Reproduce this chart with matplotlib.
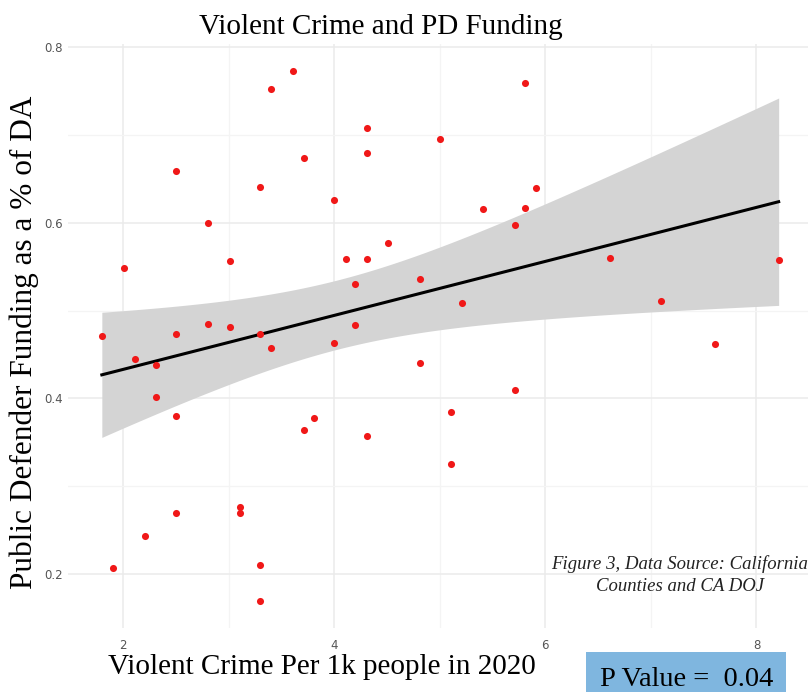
import numpy as np
import matplotlib
matplotlib.use("Agg")
import matplotlib.pyplot as plt
from matplotlib.patches import Rectangle

# violent crime per 1k people (2020) and PD/DA funding ratio, one entry per county
crime = [1.80, 1.91, 2.01, 2.11, 2.21, 2.31, 2.31, 2.50, 2.50, 2.50,
         2.50, 2.81, 2.81, 3.01, 3.01, 3.11, 3.11, 3.30, 3.30, 3.30,
         3.30, 3.40, 3.40, 3.61, 3.71, 3.71, 3.81, 4.00, 4.00, 4.11,
         4.20, 4.20, 4.31, 4.31, 4.31, 4.31, 4.51, 4.81, 4.81, 5.00,
         5.11, 5.11, 5.21, 5.41, 5.71, 5.71, 5.81, 5.81, 5.91, 6.61,
         7.10, 7.61, 8.21]
funding = [0.471, 0.207, 0.548, 0.445, 0.244, 0.438, 0.402, 0.659, 0.473, 0.380,
           0.270, 0.600, 0.485, 0.556, 0.481, 0.276, 0.270, 0.640, 0.473, 0.211,
           0.169, 0.752, 0.457, 0.773, 0.673, 0.364, 0.378, 0.626, 0.463, 0.559,
           0.530, 0.483, 0.708, 0.679, 0.559, 0.357, 0.577, 0.536, 0.440, 0.695,
           0.385, 0.325, 0.508, 0.615, 0.597, 0.409, 0.759, 0.617, 0.639, 0.560,
           0.511, 0.462, 0.558]
p_value = 0.04

x = np.array(crime)
y = np.array(funding)

# linear fit with 95% confidence band (like geom_smooth(method="lm"))
n = len(x)
slope, intercept = np.polyfit(x, y, 1)
resid = y - (slope * x + intercept)
s = np.sqrt(np.sum(resid ** 2) / (n - 2))
xs = np.linspace(x.min(), x.max(), 200)
ys = slope * xs + intercept
se = s * np.sqrt(1.0 / n + (xs - x.mean()) ** 2 / np.sum((x - x.mean()) ** 2))
t_crit = 2.0076  # t(0.975, df=51)

W, H = 808, 692
fig = plt.figure(figsize=(W / 100, H / 100), dpi=100)
ax = fig.add_axes([68 / W, 1 - 628 / H, 744.5 / W, 584 / H])

ax.fill_between(xs, ys - t_crit * se, ys + t_crit * se, color="#d4d4d4", lw=0, zorder=2)
ax.plot(xs, ys, color="black", lw=2.2, zorder=3)
ax.scatter(x, y, s=26, color="#f01818", lw=0, zorder=4)

xr = x.max() - x.min()
yr = y.max() - y.min()
ax.set_xlim(x.min() - 0.05 * xr, x.max() + 0.05 * xr)
ax.set_ylim(y.min() - 0.05 * yr, y.max() + 0.05 * yr)

ax.set_xticks([2, 4, 6, 8])
ax.set_xticks([3, 5, 7], minor=True)
ax.set_yticks([0.2, 0.4, 0.6, 0.8])
ax.set_yticks([0.3, 0.5, 0.7], minor=True)
ax.grid(which="major", color="#ebebeb", lw=1.1, zorder=0)
ax.grid(which="minor", color="#f4f4f4", lw=0.9, zorder=0)
ax.set_axisbelow(True)
for sp in ax.spines.values():
    sp.set_visible(False)
ax.tick_params(which="both", length=0, labelsize=8.5, colors="#555555")
ax.tick_params(axis="y", pad=4)
ax.tick_params(axis="x", pad=8)
ax.set_facecolor("white")

serif = "Liberation Serif"
fig.text(381 / W, 1 - 27 / H, "Violent Crime and PD Funding", family=serif,
         fontsize=21, ha="center", va="center")
fig.text(24 / W, 1 - 342 / H, "Public Defender Funding as a % of DA", family=serif,
         fontsize=22.5, rotation=90, ha="center", va="center")
fig.text(322 / W, 1 - 667 / H, "Violent Crime Per 1k people in 2020", family=serif,
         fontsize=21, ha="center", va="center")
fig.text(680 / W, 1 - 575 / H, "Figure 3, Data Source: California\nCounties and CA DOJ",
         family=serif, style="italic", fontsize=13.5, ha="center", va="center",
         linespacing=1.45, color="#222222")

# p-value box
fig.patches.append(Rectangle((586 / W, 0), 200 / W, 40 / H, transform=fig.transFigure,
                             facecolor="#7fb6df", edgecolor="none"))
fig.text(687 / W, 1 - 680 / H, "P Value =  %.2f" % p_value, family=serif,
         fontsize=20.5, ha="center", va="center")

fig.savefig("out.png", dpi=100)
